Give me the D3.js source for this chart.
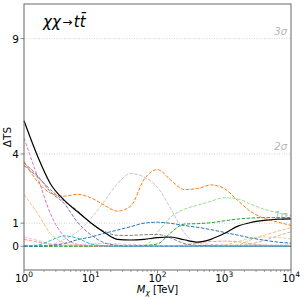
<!DOCTYPE html>
<html>
<head>
<meta charset="utf-8">
<script src="https://cdn.jsdelivr.net/npm/d3@7"></script>
<style>
  body { margin: 0; background: #fff; }
  svg { font-family: 'DejaVu Sans', sans-serif; }
</style>
</head>
<body>
<div id="chart"></div>
<script>
// mass grid (TeV), one point every 0.2 in log10
const masses = [1, 1.6, 2.5, 4, 6.3, 10, 16, 25, 40, 63, 100, 160, 250, 400, 630, 1000, 1600, 2500, 4000, 6300, 10000];

// delta TS for each channel
const blackTS     = [5.44, 3.9, 2.7, 2.0, 1.5, 1.02, 0.6, 0.3, 0.27, 0.3, 0.37, 0.4, 0.28, 0.18, 0.3, 0.55, 0.87, 1.03, 1.12, 1.17, 1.19];
const orangeTS    = [3.68, 2.8, 2.3, 2.17, 2.25, 2.1, 1.78, 1.52, 1.75, 2.9, 3.32, 2.85, 2.46, 2.5, 2.66, 2.5, 1.98, 1.5, 1.2, 1.05, 0.9];
const lightGrayTS = [0, 0, 0.05, 0.3, 0.62, 1.2, 1.95, 2.7, 3.15, 3.0, 2.55, 1.6, 0.6, 0.12, 0.08, 0.06, 0.05, 0.05, 0.05, 0.05, 0.05];
const lightOrangeTS = [2.24, 1.42, 0.55, 0.15, 0.03, 0, 0, 0, 0, 0, 0, 0, 0, 0, 0, 0, 0.05, 0.28, 0.48, 0.65, 0.8];
const pinkTS      = [4.69, 3.0, 1.4, 0.42, 0.08, 0.02, 0, 0, 0, 0, 0, 0, 0, 0, 0, 0, 0, 0, 0, 0, 0];
const purpleTS    = [3.61, 3.05, 2.35, 1.85, 1.05, 0.5, 0.15, 0.04, 0, 0, 0, 0, 0, 0, 0, 0, 0, 0, 0, 0, 0];
const lightPurpleTS = [0, 0, 0, 0, 0, 0, 0, 0, 0, 0, 0, 0, 0, 0, 0, 0, 0.02, 0.1, 0.25, 0.45, 0.62];
const grayTS      = [3.5, 3.0, 2.45, 1.95, 1.55, 1.0, 0.65, 0.47, 0.47, 0.5, 0.51, 0.35, 0.12, 0.04, 0.02, 0, 0, 0, 0, 0, 0];
const blueTS      = [0, 0, 0.03, 0.12, 0.28, 0.4, 0.56, 0.7, 0.85, 1.0, 1.04, 0.99, 0.9, 0.82, 0.72, 0.6, 0.48, 0.36, 0.26, 0.18, 0.13];
const lightGreenTS = [0, 0, 0, 0, 0, 0, 0, 0, 0, 0.02, 0.6, 1.28, 1.6, 1.78, 1.95, 2.1, 2.05, 1.82, 1.6, 1.45, 1.31];
const greenTS     = [0, 0, 0, 0, 0, 0, 0, 0, 0, 0.03, 0.1, 0.6, 0.96, 0.98, 1.02, 1.1, 1.18, 1.22, 1.24, 1.24, 1.24];
const lightRedTS  = [0.3, 0.18, 0.08, 0.03, 0, 0, 0, 0, 0, 0, 0, 0, 0.05, 0.15, 0.2, 0.22, 0.2, 0.1, 0.05, 0.02, 0];
const lightPinkTS = [0.4, 0.25, 0.1, 0.05, 0.05, 0.1, 0.12, 0.1, 0.08, 0.05, 0.02, 0, 0, 0, 0, 0, 0, 0, 0, 0, 0];
const khakiTS     = [0, 0, 0, 0, 0, 0, 0, 0, 0, 0, 0, 0, 0, 0, 0, 0.05, 0.2, 0.35, 0.4, 0.38, 0.32];
const oliveTS     = [0.02, 0.02, 0.02, 0.02, 0.02, 0.02, 0.02, 0.02, 0.02, 0.02, 0.02, 0.02, 0.02, 0.02, 0.02, 0.02, 0.02, 0.02, 0.02, 0.02, 0.02];
const cyanTS      = [0.02, 0.05, 0.25, 0.45, 0.35, 0.1, 0.02, 0, 0, 0, 0, 0, 0, 0, 0, 0, 0, 0, 0, 0, 0];

const series = [
  { v: oliveTS, color: '#bcbd22', dash: true },
  { v: lightPinkTS, color: '#f7b6d2', dash: true },
  { v: lightRedTS, color: '#ff9896', dash: true },
  { v: khakiTS, color: '#dbdb8d', dash: true },
  { v: lightPurpleTS, color: '#c5b0d5', dash: true },
  { v: lightOrangeTS, color: '#ffbb78', dash: true },
  { v: lightGrayTS, color: '#c7c7c7', dash: true },
  { v: lightGreenTS, color: '#98df8a', dash: true },
  { v: greenTS, color: '#2ca02c', dash: true },
  { v: pinkTS, color: '#e377c2', dash: true },
  { v: purpleTS, color: '#9467bd', dash: true },
  { v: grayTS, color: '#7f7f7f', dash: true },
  { v: blueTS, color: '#1f77b4', dash: true },
  { v: orangeTS, color: '#ff7f0e', dash: true },
  { v: cyanTS, color: '#17becf', dash: true },
  { v: blackTS, color: '#000000', dash: false }
];

const yTicks = [0, 1, 4, 9];
const sigmaLines = [{ ts: 1, label: '1σ' }, { ts: 4, label: '2σ' }, { ts: 9, label: '3σ' }];
const xTicks = [1, 10, 100, 1000, 10000];

const W = 304, H = 299;
const m = { left: 24, right: 291, top: 4, bottom: 270 };

const svg = d3.select('#chart')
  .append('svg')
    .attr('width', W)
    .attr('height', H);

const x = d3.scaleLog().domain([1, 1e4]).range([m.left, m.right]);
const y = d3.scaleLinear().domain([-1.03, 10.5]).range([m.bottom, m.top]);

// sigma reference lines
svg.selectAll('.sig')
  .data(sigmaLines)
  .enter()
  .append('line')
    .attr('x1', m.left).attr('x2', m.right)
    .attr('y1', d => y(d.ts)).attr('y2', d => y(d.ts))
    .attr('stroke', '#c8c8c8')
    .attr('stroke-width', 0.8)
    .attr('stroke-dasharray', '1,1.5');

svg.selectAll('.sigLabel')
  .data(sigmaLines)
  .enter()
  .append('text')
    .attr('x', 287)
    .attr('y', d => y(d.ts) - 4)
    .attr('text-anchor', 'end')
    .attr('font-size', 10)
    .attr('font-style', 'italic')
    .attr('fill', '#b4b4b4')
    .text(d => d.label);

// curves
const line = d3.line()
  .x((d, i) => x(masses[i]))
  .y(d => y(d))
  .curve(d3.curveMonotoneX);

svg.append('g')
  .selectAll('path')
  .data(series)
  .enter()
  .append('path')
    .attr('d', d => line(d.v))
    .attr('fill', 'none')
    .attr('stroke', d => d.color)
    .attr('stroke-width', d => d.dash ? 1 : 1.2)
    .attr('stroke-dasharray', d => d.dash ? '3.5,1.5' : null);

// frame
svg.append('rect')
  .attr('x', m.left).attr('y', m.top)
  .attr('width', m.right - m.left).attr('height', m.bottom - m.top)
  .attr('fill', 'none')
  .attr('stroke', '#666')
  .attr('stroke-width', 1);

// X axis, log with minor ticks
const minor = [];
for (let e = 0; e < 4; e++) {
  for (let k = 2; k < 10; k++) minor.push(k * Math.pow(10, e));
}
svg.append('g')
  .selectAll('line')
  .data(minor)
  .enter()
  .append('line')
    .attr('x1', d => x(d)).attr('x2', d => x(d))
    .attr('y1', m.bottom).attr('y2', m.bottom + 2)
    .attr('stroke', '#666')
    .attr('stroke-width', 0.6);

const xAxis = svg.append('g')
  .selectAll('g')
  .data(xTicks)
  .enter()
  .append('g');
xAxis.append('line')
  .attr('x1', d => x(d)).attr('x2', d => x(d))
  .attr('y1', m.bottom).attr('y2', m.bottom + 3.5)
  .attr('stroke', '#666')
  .attr('stroke-width', 0.8);
const xt = xAxis.append('text')
  .attr('x', d => x(d))
  .attr('y', m.bottom + 11.5)
  .attr('text-anchor', 'middle')
  .attr('font-size', 10.5)
  .attr('fill', '#000');
xt.append('tspan').text('10');
xt.append('tspan')
  .attr('dy', -4.5)
  .attr('font-size', 7.5)
  .text(d => Math.round(Math.log10(d)));

// Y axis
const yAxis = svg.append('g')
  .selectAll('g')
  .data(yTicks)
  .enter()
  .append('g');
yAxis.append('line')
  .attr('x1', m.left - 3.5).attr('x2', m.left)
  .attr('y1', d => y(d)).attr('y2', d => y(d))
  .attr('stroke', '#666')
  .attr('stroke-width', 0.8);
yAxis.append('text')
  .attr('x', m.left - 5)
  .attr('y', d => y(d) + 4)
  .attr('text-anchor', 'end')
  .attr('font-size', 10.5)
  .attr('fill', '#000')
  .text(d => d);

// axis labels
const xl = svg.append('text')
  .attr('x', (m.left + m.right) / 2)
  .attr('y', 293)
  .attr('text-anchor', 'middle')
  .attr('font-size', 10)
  .attr('fill', '#000');
xl.append('tspan').attr('font-style', 'italic').text('M');
xl.append('tspan').attr('font-style', 'italic').attr('font-size', 7.5).attr('dy', 2).text('χ');
xl.append('tspan').attr('dy', -2).text(' [TeV]');

svg.append('text')
  .attr('transform', 'translate(11,' + ((m.top + m.bottom) / 2) + ') rotate(-90)')
  .attr('text-anchor', 'middle')
  .attr('font-size', 10.5)
  .attr('fill', '#000')
  .text('ΔTS');

// channel title
const title = svg.append('text')
  .attr('x', 43)
  .attr('y', 27)
  .attr('font-size', 15)
  .attr('fill', '#000');
title.append('tspan').attr('font-style', 'italic').text('χχ');
title.append('tspan').attr('font-size', 12).attr('dx', 1.5).attr('dy', -1).text('\u2192');
title.append('tspan').attr('font-style', 'italic').attr('dx', 1.5).attr('dy', 1).text('tt\u0304');
</script>
</body>
</html>
